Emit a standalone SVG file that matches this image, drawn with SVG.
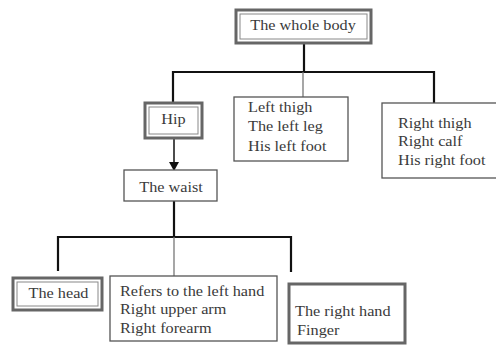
<svg xmlns="http://www.w3.org/2000/svg" width="496" height="345" viewBox="0 0 496 345">
<style>
text{font-family:'Liberation Serif','Times New Roman',serif;font-size:14px;fill:#3a3a3a}
.c{text-anchor:middle}
.box{fill:#fff;stroke:#555;stroke-width:1.3}
.dbl{fill:#fff;stroke:#666;stroke-width:3}
.inr{fill:none;stroke:#888;stroke-width:1}
.thick{fill:#fff;stroke:#666;stroke-width:3}
.ln{fill:none;stroke:#111;stroke-width:2.2}
.lg{fill:none;stroke:#777;stroke-width:1.3}
</style>
<rect width="496" height="345" fill="#fff"/>
<g id="connectors">
<path class="ln" d="M304,44 V72"/>
<path class="ln" d="M173,102 V72 H434 V103"/>
<path class="lg" d="M303,72 V97"/>
<path d="M174,139 V162" stroke="#111" stroke-width="1.5" fill="none"/>
<path d="M169,162 L179,162 L174,171 Z" fill="#111"/>
<path class="ln" d="M174,201 V237"/>
<path class="ln" d="M58,271 V237 H291 V272"/>
<path class="lg" d="M174,237 V276"/>
</g>
<g id="whole-body">
<rect class="dbl" x="236" y="10" width="135" height="33"/>
<rect class="inr" x="240" y="14" width="127" height="25"/>
<text class="c" transform="translate(303,30) scale(1.16,1)">The whole body</text>
</g>
<g id="hip">
<rect class="dbl" x="145" y="103" width="57" height="35"/>
<rect class="inr" x="149" y="107" width="49" height="27"/>
<text class="c" transform="translate(173.5,124) scale(1.16,1)">Hip</text>
</g>
<g id="left-thigh">
<rect class="box" x="234" y="97" width="114" height="64"/>
<text transform="translate(248,112) scale(1.16,1)">Left thigh</text>
<text transform="translate(248,131) scale(1.16,1)">The left leg</text>
<text transform="translate(248,151) scale(1.16,1)">His left foot</text>
</g>
<g id="right-thigh">
<rect class="box" x="382" y="103" width="120" height="75" stroke-width="1.8"/>
<text transform="translate(398,128) scale(1.16,1)">Right thigh</text>
<text transform="translate(398,146) scale(1.16,1)">Right calf</text>
<text transform="translate(398,165) scale(1.16,1)">His right foot</text>
</g>
<g id="waist">
<rect class="box" x="124" y="170" width="93" height="31"/>
<text class="c" transform="translate(171,192) scale(1.16,1)">The waist</text>
</g>
<g id="head">
<rect class="dbl" x="13" y="278" width="89" height="32"/>
<rect class="inr" x="17" y="282" width="81" height="24"/>
<text class="c" transform="translate(58.5,298) scale(1.16,1)">The head</text>
</g>
<g id="left-hand">
<rect class="box" x="110" y="276" width="167" height="65"/>
<text transform="translate(120,296) scale(1.16,1)">Refers to the left hand</text>
<text transform="translate(120,314) scale(1.16,1)">Right upper arm</text>
<text transform="translate(120,333) scale(1.16,1)">Right forearm</text>
</g>
<g id="right-hand">
<rect class="thick" x="289" y="284" width="116" height="59"/>
<text transform="translate(295,316) scale(1.16,1)">The right hand</text>
<text transform="translate(297,335) scale(1.16,1)">Finger</text>
</g>
</svg>
